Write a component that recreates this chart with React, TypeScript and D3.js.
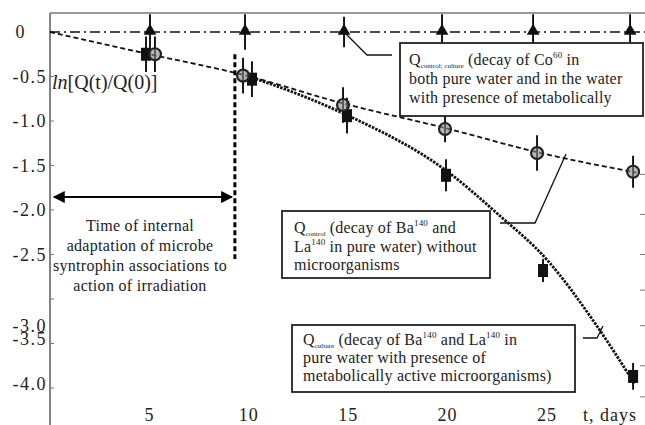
import React from "react";
import * as d3 from "d3";

const triDays = [5.03, 9.81, 14.79, 19.72, 24.3, 29.18];
const triVals = [0, 0, 0, 0, 0, 0];
const triErr = [0.2, 0.2, 0.17, 0.2, 0.2, 0.2];

const circDays = [5.28, 9.71, 14.74, 19.87, 24.5, 29.33];
const circVals = [-0.25, -0.49, -0.82, -1.09, -1.36, -1.57];
const circErr = [0.2, 0.2, 0.2, 0.15, 0.2, 0.18];

const sqDays = [4.83, 10.16, 14.94, 19.92, 24.8, 29.33];
const sqVals = [-0.25, -0.53, -0.94, -1.61, -2.68, -3.87];
const sqErr = [0.2, 0.2, 0.2, 0.18, 0.13, 0.15];

const controlFitDays = [0, 5, 9.7, 14.7, 19.9, 24.5, 29.5];
const controlFitVals = [0, -0.25, -0.48, -0.8, -1.08, -1.35, -1.58];

const cultureFitDays = [10, 12.5, 15, 20, 22.5, 25, 27.5, 29.4];
const cultureFitVals = [-0.5, -0.7, -0.94, -1.57, -2.04, -2.56, -3.3, -3.95];

const xTicks = [5, 10, 15, 20, 25];
const yTickMarks = [0, -0.5, -1, -1.5, -2, -2.5, -3, -3.5, -4];
const yLabelVals = [0, -0.5, -1, -1.5, -2, -2.5, -3.3, -3.45, -3.95];
const yLabelTexts = ["0", "-0.5", "-1.0", "-1.5", "-2.0", "-2.5", "-3.0", "-3.5", "-4.0"];
const rightTicks = [-1.6, -2.05, -2.5, -2.9, -3.3, -3.75, -4.1];

const W = 645;
const H = 425;
const FONT = "Liberation Serif";

export default function App() {
  const x = d3.scaleLinear().domain([0, 25]).range([50, 547]);
  const y = d3.scaleLinear().domain([0, -4]).range([32, 388]);

  const line = d3
    .line<[number, number]>()
    .x((d) => x(d[0]))
    .y((d) => y(d[1]))
    .curve(d3.curveMonotoneX);

  const controlPath = line(controlFitDays.map((d, i) => [d, controlFitVals[i]]) as [number, number][]) || "";
  const culturePath = line(cultureFitDays.map((d, i) => [d, cultureFitVals[i]]) as [number, number][]) || "";

  const tri = d3.symbol().type(d3.symbolTriangle).size(70)() || "";

  const errBar = (d: number, v: number, e: number, k: string) => (
    <line key={k} x1={x(d)} x2={x(d)} y1={y(v + e)} y2={y(v - e)} stroke="#000" strokeWidth={1.8} />
  );

  const tp = { fontFamily: FONT, fontSize: 16, fill: "#222", letterSpacing: 0.2 };

  return (
    <svg width={W} height={H} fontFamily={FONT} style={{ position: "absolute", left: 0, top: 0, background: "#fff" }}>
      <defs>
        <marker id="ah" viewBox="0 0 10 10" refX="9" refY="5" markerWidth="7" markerHeight="6" orient="auto-start-reverse">
          <path d="M0,0 L10,5 L0,10 z" fill="#000" />
        </marker>
      </defs>
      {/* frame */}
      <line x1={50} x2={W} y1={13} y2={13} stroke="#777" strokeWidth={1.5} />
      <line x1={50} x2={50} y1={13} y2={H} stroke="#777" strokeWidth={1.8} />
      {yTickMarks.map((v) => (
        <line key={"yt" + v} x1={50} x2={54} y1={y(v)} y2={y(v)} stroke="#777" strokeWidth={1} />
      ))}
      {rightTicks.map((v) => (
        <line key={"rt" + v} x1={640} x2={645} y1={y(v)} y2={y(v)} stroke="#777" strokeWidth={1} />
      ))}
      {yLabelVals.map((v, i) => (
        <text key={"yl" + i} x={i === 0 ? 26 : 47} y={y(v)} dy="0.35em" textAnchor="end"
          fontFamily={FONT} fontSize={18} letterSpacing={1.5} fill="#222">
          {yLabelTexts[i]}
        </text>
      ))}
      {xTicks.map((t) => (
        <text key={"xt" + t} x={x(t)} y={421} textAnchor="middle" fontFamily={FONT} fontSize={18} letterSpacing={1} fill="#222">
          {t}
        </text>
      ))}
      <text x={583} y={421} fontFamily={FONT} fontSize={18} letterSpacing={1} fill="#222">
        t, days
      </text>

      {/* y label */}
      <text x={52} y={89} fontFamily={FONT} fontSize={20} fill="#222">
        <tspan fontStyle="italic">ln</tspan>[Q(t)/Q(0)]
      </text>

      {/* reference lines */}
      <line x1={50} x2={W} y1={y(0)} y2={y(0)} stroke="#111" strokeWidth={1.6} strokeDasharray="10,4,2,4" />
      <path d={controlPath} fill="none" stroke="#111" strokeWidth={1.8} strokeDasharray="5,3" />
      <path d={culturePath} fill="none" stroke="#111" strokeWidth={2.8} strokeDasharray="2.5,1.2" />

      {/* adaptation period */}
      <line x1={x(9.3)} x2={x(9.3)} y1={y(-0.25)} y2={y(-2.55)} stroke="#000" strokeWidth={3} strokeDasharray="5,3" />
      <line x1={x(0.2)} x2={x(9.15)} y1={y(-1.855)} y2={y(-1.855)} stroke="#000" strokeWidth={2}
        markerStart="url(#ah)" markerEnd="url(#ah)" />
      <text x={140} y={231} textAnchor="middle" {...tp} letterSpacing={0.3}>
        <tspan x={140} dy={0}>Time of internal</tspan>
        <tspan x={140} dy={20}>adaptation of microbe</tspan>
        <tspan x={140} dy={20}>syntrophin associations to</tspan>
        <tspan x={140} dy={20}>action of irradiation</tspan>
      </text>

      {/* error bars */}
      {triDays.map((d, i) => errBar(d, triVals[i], triErr[i], "te" + i))}
      {circDays.map((d, i) => errBar(d, circVals[i], circErr[i], "ce" + i))}
      {sqDays.map((d, i) => errBar(d, sqVals[i], sqErr[i], "se" + i))}

      {/* markers */}
      {sqDays.map((d, i) => (
        <rect key={"sq" + i} x={x(d) - 5} y={y(sqVals[i]) - 6.5} width={10} height={13} fill="#111" />
      ))}
      {circDays.map((d, i) => (
        <circle key={"c" + i} cx={x(d)} cy={y(circVals[i])} r={6} fill="#888" fillOpacity={0.6} stroke="#222" strokeWidth={2.2} />
      ))}
      {triDays.map((d, i) => (
        <path key={"t" + i} d={tri} transform={`translate(${x(d)},${y(triVals[i]) - 1})`} fill="#111" />
      ))}

      {/* annotation 1 */}
      <polyline points={`${x(14.79)},${y(0)} 367,55 392,55`} fill="none" stroke="#111" strokeWidth={1.3} />
      <rect x={400} y={43} width={243} height={73} fill="#fff" stroke="#222" strokeWidth={1.8} />
      <text x={409} y={65} {...tp}>
        Q<tspan fontSize={7} dy={3} letterSpacing={0}>control; culture</tspan>
        <tspan dy={-3}> (decay of Co</tspan>
        <tspan fontSize={9} dy={-7}>60</tspan>
        <tspan dy={7}> in</tspan>
      </text>
      <text x={409} y={84} {...tp}>both pure water and in the water</text>
      <text x={409} y={103} {...tp}>with presence of metabolically</text>

      {/* annotation 2 */}
      <polyline points={`500,223 535,223 566,154`} fill="none" stroke="#111" strokeWidth={1.3} />
      <rect x={282} y={211} width={208} height={67} fill="#fff" stroke="#222" strokeWidth={1.8} />
      <text x={294} y={233} {...tp}>
        Q<tspan fontSize={7} dy={3} letterSpacing={0}>control</tspan>
        <tspan dy={-3}> (decay of Ba</tspan>
        <tspan fontSize={9} dy={-7}>140</tspan>
        <tspan dy={7}> and</tspan>
      </text>
      <text x={294} y={252} {...tp}>
        La<tspan fontSize={9} dy={-7}>140</tspan>
        <tspan dy={7}> in pure water) without</tspan>
      </text>
      <text x={294} y={270} {...tp}>microorganisms</text>

      {/* annotation 3 */}
      <polyline points={`583,338 597,338 603,326`} fill="none" stroke="#111" strokeWidth={1.3} />
      <rect x={292} y={325} width={283} height={67} fill="#fff" stroke="#222" strokeWidth={1.8} />
      <text x={303} y={345} {...tp}>
        Q<tspan fontSize={7} dy={3} letterSpacing={0}>culture</tspan>
        <tspan dy={-3}> (decay of Ba</tspan>
        <tspan fontSize={9} dy={-7}>140</tspan>
        <tspan dy={7}> and La</tspan>
        <tspan fontSize={9} dy={-7}>140</tspan>
        <tspan dy={7}> in</tspan>
      </text>
      <text x={303} y={363} {...tp}>pure water with presence of</text>
      <text x={303} y={381} {...tp}>metabolically active microorganisms)</text>
    </svg>
  );
}
